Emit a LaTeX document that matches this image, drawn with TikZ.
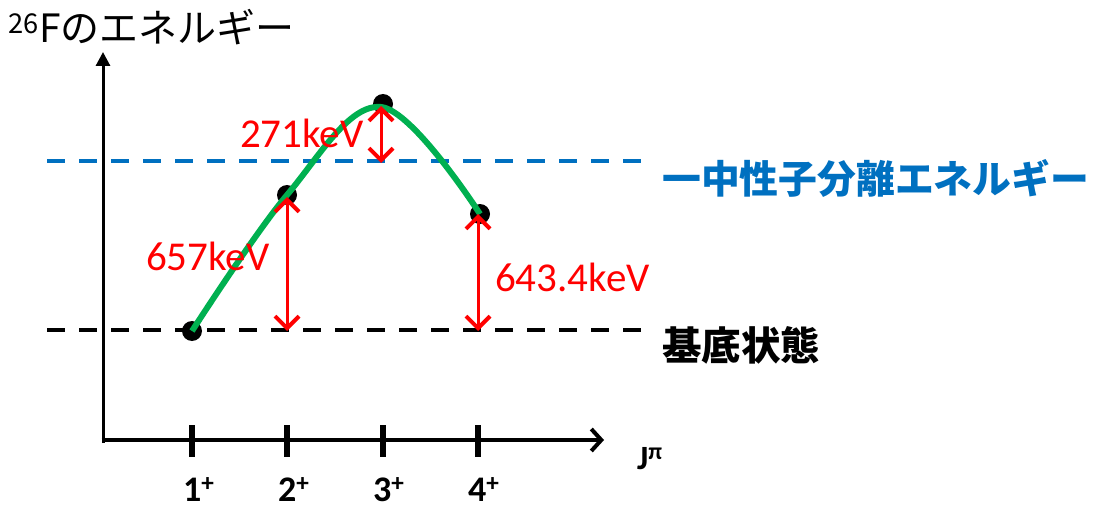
\documentclass[tikz,border=0pt]{standalone}
\usepackage{fontspec}
\setmainfont{Carlito}
\newfontfamily\jp{Noto Sans CJK JP}
\usetikzlibrary{arrows.meta}
\definecolor{myblue}{RGB}{0,112,192}
\definecolor{mygreen}{RGB}{0,176,80}
\definecolor{myred}{RGB}{255,0,0}
\tikzset{
  dot/.style={circle,fill=black,minimum size=20pt,inner sep=0pt},
  levelline/.style={line width=4pt,dash pattern=on 18pt off 14pt},
  redarrow/.style={myred,line width=3pt,{Straight Barb[length=12pt,width=24pt,line width=4pt]}-{Straight Barb[length=12pt,width=24pt,line width=4pt]}},
  tickmark/.style={line width=6pt},
  redlabel/.style={myred,anchor=base west,inner sep=0pt,font=\fontsize{41}{46}\selectfont},
  ticklabel/.style={anchor=base west,inner sep=0pt,font=\fontsize{36}{40}\selectfont\bfseries},
}
\begin{document}
\begin{tikzpicture}[x=1pt,y=-1pt]
\useasboundingbox (0,0) rectangle (1101,508);
% axes
\coordinate (ytop) at (103,52);
\coordinate (xend) at (604,440);
\draw[line width=3pt,-{Triangle[length=14pt,width=14pt]}] (103,443) -- (ytop);
\draw[line width=4pt,-{Straight Barb[length=10pt,width=22pt]}] (101.5,440) -- (xend);
% ticks
\foreach \x in {192,287,383,478}{
  \draw[tickmark] (\x,425) -- (\x,457);
}
\node[ticklabel] (l1) at (183,501) {1\textsuperscript{+}};
\node[ticklabel] (l2) at (278,501) {2\textsuperscript{+}};
\node[ticklabel] (l3) at (373,501) {3\textsuperscript{+}};
\node[ticklabel] (l4) at (468,501) {4\textsuperscript{+}};
\node[anchor=base west,inner sep=0pt,font=\fontsize{34}{40}\selectfont\bfseries] (jpi) at (637,469) {J\textsuperscript{π}};
% level lines
\coordinate (gl) at (47,330);
\coordinate (gr) at (642,330);
\coordinate (sl) at (47,161);
\coordinate (sr) at (642,161);
\draw[levelline,black] (gl) -- (gr);
\draw[levelline,myblue] (sl) -- (sr);
% labels
\node[anchor=west,inner sep=0pt,text=myblue,font=\jp\fontsize{38.8}{44}\selectfont\bfseries] (sn) at (662,178) {一中性子分離エネルギー};
\node[anchor=west,inner sep=0pt,font=\jp\fontsize{39.5}{44}\selectfont\bfseries] (gs) at (662,345) {基底状態};
\node[anchor=base west,inner sep=0pt,font=\jp\fontsize{39}{44}\selectfont] (title) at (8,43) {\textsuperscript{26}Fのエネルギー};
% dots
\node[dot] (p1) at (192,331) {};
\node[dot] (p2) at (287,195) {};
\node[dot] (p3) at (383,104) {};
\node[dot] (p4) at (480,214) {};
% curve
\draw[mygreen,line width=6pt] plot[smooth,tension=0.6] coordinates {(p1.center) (p2.center) (381,107) (p4.center)};
% arrows
\coordinate (a2t) at (287,197);
\coordinate (a2b) at (287,331);
\coordinate (a3t) at (381,106);
\coordinate (a3b) at (381,163);
\coordinate (a4t) at (478,214);
\coordinate (a4b) at (478,331);
\draw[redarrow] (a2t) -- (a2b);
\draw[redarrow] (a3t) -- (a3b);
\draw[redarrow] (a4t) -- (a4b);
\node[redlabel] (e3) at (240,148) {271keV};
\node[redlabel] (e2) at (146,270) {657keV};
\node[redlabel] (e4) at (495,291) {643.4keV};
\end{tikzpicture}
\end{document}
